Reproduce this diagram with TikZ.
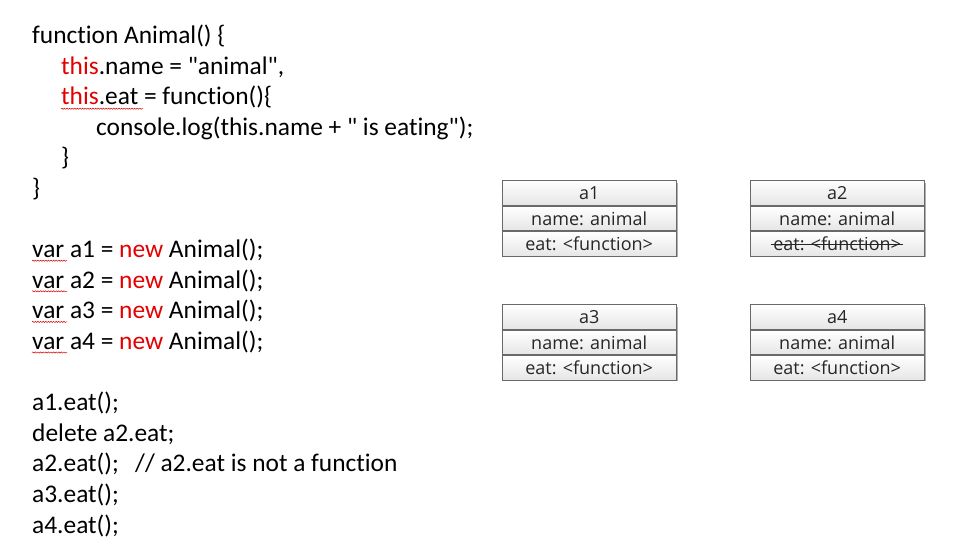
\documentclass[tikz,border=0pt]{standalone}
\usepackage{fontspec}
\setmainfont{Carlito}[Ligatures={NoCommon,TeXOff}]
\newfontfamily\boxfont{Open Sans}[Ligatures={NoCommon,TeXOff}]
\usetikzlibrary{decorations.pathmorphing}
\definecolor{kwred}{RGB}{228,0,0}
\definecolor{boxline}{RGB}{105,105,105}
\definecolor{boxshadow}{RGB}{175,175,175}
\tikzset{
  code/.style={anchor=base west, inner sep=0pt, font=\fontsize{25.4}{30}\selectfont},
  row/.style={draw=boxline, line width=0.8pt, minimum width=173.5pt, minimum height=24.8pt,
              inner sep=0pt, top color=white, bottom color=black!10,
              font=\boxfont\fontsize{18}{21}\selectfont, text=black!85},
  rowtext/.style={inner sep=0pt, font=\boxfont\fontsize{18}{21}\selectfont, text=black!85},
  squig/.style={draw=red!85!black, line width=0.5pt, decorate,
                decoration={snake, amplitude=0.6pt, segment length=2.6pt}},
}
\newcommand\objbox[5]{%
  \fill[boxshadow] (#2+2.5,#3+2.5) rectangle ++(173.5,74.4);
  \node[row, anchor=north west] (#1h) at (#2,#3) {#4};
  \node[row, anchor=north] (#1n) at (#1h.south) {name: animal};
  \node[row, anchor=north] (#1e) at (#1n.south) {#5};
}
\newcommand\kw[1]{\textcolor{kwred}{#1}}
\begin{document}
\begin{tikzpicture}[x=1pt, y=-1pt]
\useasboundingbox (0,0) rectangle (964,555);
\fill[white] (0,0) rectangle (964,555);
% code lines
\node[code] (l1)  at (32,43.5)  {function Animal() \{};
\node[code] (l2)  at (61,74.1)  {\kw{this}.name = "animal",};
\node[code] (l3)  at (61,104.7) {\kw{this}.eat = function()\{};
\node[code] (l4)  at (96,135.3) {console.log(this.name + " is eating");};
\node[code] (l5)  at (61,165.9) {\}};
\node[code] (l6)  at (32,196.5) {\}};
\node[code] (l8)  at (32,257.7) {var a1 = \kw{new} Animal();};
\node[code] (l9)  at (32,288.3) {var a2 = \kw{new} Animal();};
\node[code] (l10) at (32,318.9) {var a3 = \kw{new} Animal();};
\node[code] (l11) at (32,349.5) {var a4 = \kw{new} Animal();};
\node[code] (l13) at (32,410.7) {a1.eat();};
\node[code] (l14) at (32,441.3) {delete a2.eat;};
\node[code] (l15) at (32,471.9) {a2.eat();};
\node[code] (l15c) at (135,471.9) {// a2.eat is not a function};
\node[code] (l16) at (32,502.5) {a3.eat();};
\node[code] (l17) at (32,533.1) {a4.eat();};
% spell-check squiggles
\draw[squig] ([yshift=-4pt]l3.base west) -- ++(82,0);
\foreach \n in {l8,l9,l10,l11}
  \draw[squig] ([yshift=-3pt]\n.base west) -- ++(35,0);
% object boxes
\objbox{a1}{502}{180}{a1}{eat: <function>}
\objbox{a2}{750}{180}{a2}{}
\objbox{a3}{502}{304}{a3}{eat: <function>}
\objbox{a4}{750}{304}{a4}{eat: <function>}
\node[rowtext] (a2et) at (a2e) {eat: <function>};
\draw[black!85, line width=0.8pt] ([xshift=-2pt,yshift=6.8pt]a2et.base west) -- ([xshift=2pt,yshift=6.8pt]a2et.base east);
\end{tikzpicture}
\end{document}
